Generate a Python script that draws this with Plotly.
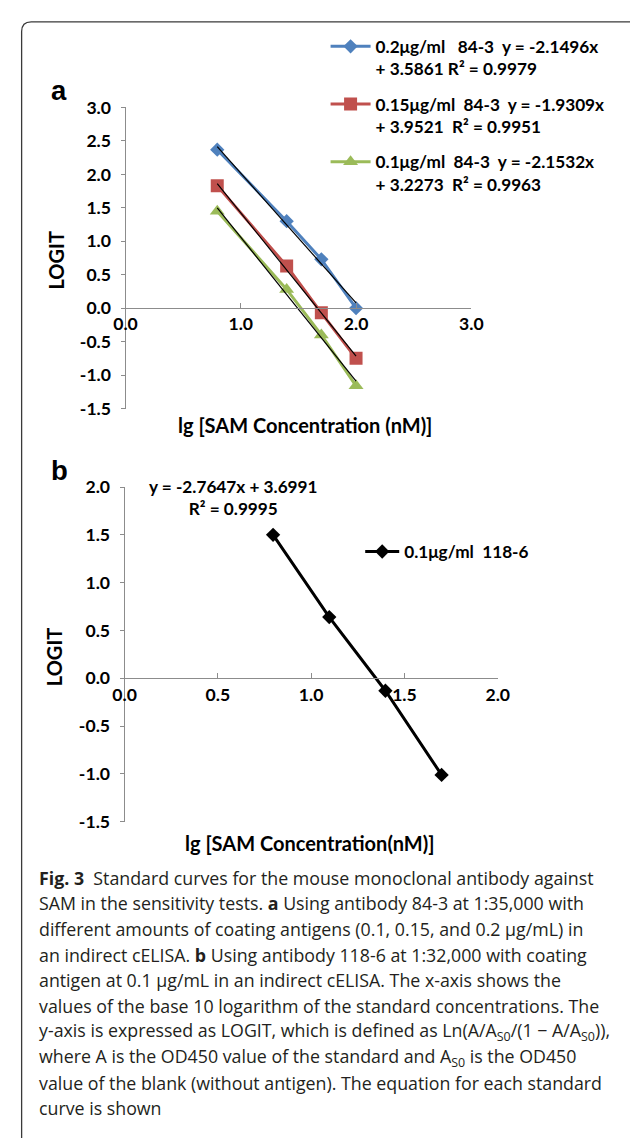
import numpy as np
import plotly.graph_objects as go

W, H = 630, 1138

# ---------------- data ----------------
# panel a: lg[SAM] and LOGIT for three coating amounts of antibody 84-3
x_a = [0.796, 1.398, 1.699, 2.0]
logit_a_02 = [2.37, 1.30, 0.73, 0.0]
logit_a_015 = [1.83, 0.63, -0.07, -0.75]
logit_a_01 = [1.45, 0.28, -0.40, -1.16]
names_a = [
    "0.2μg/ml   84-3  y = -2.1496x<br>+ 3.5861 R² = 0.9979",
    "0.15μg/ml  84-3  y = -1.9309x<br>+ 3.9521  R² = 0.9951",
    "0.1μg/ml  84-3  y = -2.1532x<br>+ 3.2273  R² = 0.9963",
]
colors_a = ["#4F81BD", "#C0504D", "#9BBB59"]
symbols_a = ["diamond", "square", "triangle-up"]
sizes_a = [11, 13, 13]
xticks_a = [0.0, 1.0, 2.0, 3.0]
yticks_a = [3.0, 2.5, 2.0, 1.5, 1.0, 0.5, 0.0, -0.5, -1.0, -1.5]

# panel b: antibody 118-6
x_b = [0.796, 1.097, 1.398, 1.699]
logit_b = [1.50, 0.64, -0.13, -1.01]
name_b = "0.1μg/ml  118-6"
eq_b = "y = -2.7647x + 3.6991<br>R² = 0.9995"
xticks_b = [0.0, 0.5, 1.0, 1.5, 2.0]
yticks_b = [2.0, 1.5, 1.0, 0.5, 0.0, -0.5, -1.0, -1.5]

caption_lines = [
    "<b>Fig. 3</b>  Standard curves for the mouse monoclonal antibody against",
    "SAM in the sensitivity tests. <b>a</b> Using antibody 84-3 at 1:35,000 with",
    "different amounts of coating antigens (0.1, 0.15, and 0.2 μg/mL) in",
    "an indirect cELISA. <b>b</b> Using antibody 118-6 at 1:32,000 with coating",
    "antigen at 0.1 μg/mL in an indirect cELISA. The x-axis shows the",
    "values of the base 10 logarithm of the standard concentrations. The",
    "y-axis is expressed as LOGIT, which is defined as Ln(A/A<sub>S0</sub>/(1 − A/A<sub>S0</sub>)),",
    "where A is the OD450 value of the standard and A<sub>S0</sub> is the OD450",
    "value of the blank (without antigen). The equation for each standard",
    "curve is shown",
]


def px(x):
    return x / W


def py(y):
    return 1 - y / H


fig = go.Figure()

CH = "Lato"
series_a = [logit_a_02, logit_a_015, logit_a_01]
for i, ys in enumerate(series_a):
    fig.add_trace(go.Scatter(
        x=x_a, y=ys, mode="lines+markers", name="<b>" + names_a[i] + "</b>",
        line=dict(color=colors_a[i], width=3),
        marker=dict(symbol=symbols_a[i], size=sizes_a[i], color=colors_a[i]),
        xaxis="x", yaxis="y", legend="legend", legendgroup="g%d" % i,
    ))
# linear trendlines (least squares fit of each series)
for ys in series_a:
    k, b = np.polyfit(x_a, ys, 1)
    xs = [min(x_a), max(x_a)]
    fig.add_trace(go.Scatter(
        x=xs, y=[k * v + b for v in xs], mode="lines",
        line=dict(color="black", width=1.2), showlegend=False,
        xaxis="x", yaxis="y", hoverinfo="skip",
    ))

fig.add_trace(go.Scatter(
    x=x_b, y=logit_b, mode="lines+markers", name="<b>" + name_b + "</b>",
    line=dict(color="black", width=3),
    marker=dict(symbol="diamond", size=11, color="black"),
    xaxis="x2", yaxis="y2", legend="legend2",
))

axis_common = dict(
    showgrid=False, zeroline=False, showline=True, linecolor="#8c8c8c",
    linewidth=1, tickcolor="#8c8c8c",
    tickfont=dict(family=CH, size=17.6, color="black", weight="bold"),
)

fig.update_layout(
    width=W, height=H, margin=dict(l=0, r=0, t=0, b=0),
    paper_bgcolor="white", plot_bgcolor="rgba(0,0,0,0)",
    xaxis=dict(domain=[px(118), px(477.5)], range=[0, 3], tickvals=xticks_a,
               ticktext=["%.1f" % v for v in xticks_a],
               anchor="free", position=py(302.5), ticks="inside", ticklen=5,
               ticklabelstandoff=0, **axis_common),
    yaxis=dict(domain=[py(405), py(98.3)], range=[-1.5, 3.0], tickvals=yticks_a,
               ticktext=["%.1f" % v for v in yticks_a],
               anchor="x", ticks="outside", ticklen=4, ticklabelstandoff=6,
               **axis_common),
    xaxis2=dict(domain=[px(117), px(505)], range=[0, 2], tickvals=xticks_b,
                ticktext=["%.1f" % v for v in xticks_b],
                anchor="free", position=py(680), ticks="inside", ticklen=5,
                ticklabelstandoff=0, **axis_common),
    yaxis2=dict(domain=[py(826), py(485)], range=[-1.5, 2.0], tickvals=yticks_b,
                ticktext=["%.1f" % v for v in yticks_b],
                anchor="x2", ticks="outside", ticklen=4, ticklabelstandoff=6,
                **axis_common),
    legend=dict(x=px(326), y=py(18), xanchor="left", yanchor="top",
                font=dict(family=CH, size=17.2, color="black"),
                bgcolor="rgba(0,0,0,0)", itemwidth=40, valign="top",
                tracegroupgap=10, traceorder="grouped"),
    legend2=dict(x=px(362), y=py(551), xanchor="left", yanchor="middle",
                 font=dict(family=CH, size=17.2, color="black"),
                 bgcolor="rgba(0,0,0,0)", itemwidth=34),
    showlegend=True,
)

ann = []
# panel labels
for (lab, x, y) in [("a", 49, 81), ("b", 49, 468)]:
    ann.append(dict(text="<b>" + lab + "</b>", x=px(x), y=py(y), xref="paper", yref="paper",
                    xanchor="center", yanchor="middle", showarrow=False,
                    font=dict(family="Liberation Sans", size=27.5, color="black")))
# axis titles
for (txt, x, y, ang) in [
    ("lg [SAM Concentration (nM)]", 304.5, 422, 0),
    ("LOGIT", 46, 254, -90),
    ("lg [SAM Concentration(nM)]", 310, 848, 0),
    ("LOGIT", 44, 658, -90),
]:
    ann.append(dict(text="<b>" + txt + "</b>", x=px(x), y=py(y), xref="paper", yref="paper",
                    xanchor="center", yanchor="middle", showarrow=False, textangle=ang,
                    font=dict(family=CH, size=20, color="black")))
# equation in panel b
ann.append(dict(text="<b>" + eq_b + "</b>", x=px(230), y=py(496), xref="paper", yref="paper",
                xanchor="center", yanchor="middle", showarrow=False, align="center",
                font=dict(family=CH, size=17.2, color="black")))
# caption
for i, line in enumerate(caption_lines):
    ann.append(dict(text=line, x=px(26), y=py(883 + 26.1 * i), xref="paper", yref="paper",
                    xanchor="left", yanchor="middle", showarrow=False,
                    font=dict(family="Open Sans", size=17.8, color="#231f20")))
fig.update_layout(annotations=ann)

# outer rounded frame
r = 10
x0, y0 = 10, 11
path = "M {a},{b} L {c},{b} Q {x0},{b} {x0},{d} L {x0},{e}".format(
    a=(W + 20) / W, b=py(y0), c=px(x0 + r), x0=px(x0), d=py(y0 + r), e=-0.05)
fig.add_shape(type="path", path=path, xref="paper", yref="paper",
              line=dict(color="#3a3a3a", width=1.3))

# remove the default page margin so the figure sits at the window origin
fig.write_html("out.html", config={"displayModeBar": False},
               post_script="document.body.style.margin='0';document.body.style.padding='0';")
